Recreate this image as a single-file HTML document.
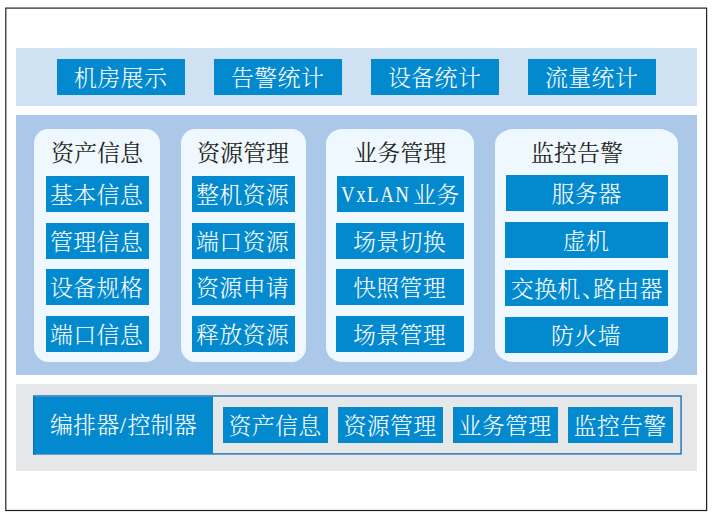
<!DOCTYPE html>
<html lang="zh-CN">
<head>
<meta charset="utf-8">
<title>架构图</title>
<style>
html,body{margin:0;padding:0;background:#fff;}
body{width:714px;height:517px;position:relative;overflow:hidden;
  font-family:"Liberation Serif","Noto Serif CJK SC",serif;font-size:23px;}
.abs{position:absolute;box-sizing:border-box;}
#band1{left:16px;top:48px;width:681px;height:57.7px;background:#cfe2f3;}
#band2{left:16px;top:115.2px;width:681px;height:259.4px;background:#abc8e8;}
#band3{left:16px;top:384px;width:681px;height:87px;background:#e6e7e8;}
.btn{position:absolute;box-sizing:border-box;padding-right:1px;letter-spacing:0.3px;background:#0389cd;color:#fff;text-align:center;white-space:nowrap;
  height:36px;line-height:39px;overflow:hidden;font-weight:300;}
.panel{position:absolute;background:#eef8fe;border-radius:14.4px;top:128.9px;height:232.8px;}
.hd{position:absolute;color:#231f20;white-space:nowrap;text-align:center;height:36px;line-height:36px;top:136px;font-weight:400;}
.lat{display:inline-block;width:67.8px;margin-left:4.2px;margin-right:3.8px;vertical-align:baseline;}
.lat span{display:inline-block;transform:scaleX(0.8);transform-origin:0 50%;letter-spacing:1.9px;font-size:23.6px;position:relative;top:-1.5px;font-weight:400;}
</style>
</head>
<body>
<svg class="abs" style="left:0;top:0" width="714" height="517" viewBox="0 0 714 517"><rect x="5.8" y="8.1" width="700.8" height="502.4" fill="#fff" stroke="#231f20" stroke-width="1.2"/></svg>
<div class="abs" id="band1"></div>
<div class="abs" id="band2"></div>
<div class="abs" id="band3"></div>

<!-- top buttons -->
<div class="btn" style="left:57px;top:59px;width:128px;padding-right:0.8px;">机房展示</div>
<div class="btn" style="left:214px;top:59px;width:128px;padding-right:0.8px;">告警统计</div>
<div class="btn" style="left:371px;top:59px;width:128px;padding-right:0.8px;">设备统计</div>
<div class="btn" style="left:528px;top:59px;width:128px;padding-right:0.8px;">流量统计</div>

<!-- panels -->
<div class="panel" style="left:34px;width:126px;"></div>
<div class="panel" style="left:180.5px;width:125.2px;"></div>
<div class="panel" style="left:326.2px;width:148.2px;border-radius:16.7px/14.6px;"></div>
<div class="panel" style="left:495px;width:183.1px;border-radius:19px/15px;"></div>

<div class="hd" style="left:34px;width:126px;">资产信息</div>
<div class="hd" style="left:180.5px;width:125.2px;">资源管理</div>
<div class="hd" style="left:326.2px;width:148.2px;">业务管理</div>
<div class="hd" style="left:495px;width:164px;">监控告警</div>

<!-- panel 1 -->
<div class="btn" style="left:46px;top:176px;width:103px;padding-right:2px;">基本信息</div>
<div class="btn" style="left:46px;top:222.7px;width:103px;padding-right:2px;">管理信息</div>
<div class="btn" style="left:46px;top:269px;width:103px;padding-right:2px;">设备规格</div>
<div class="btn" style="left:46px;top:316px;width:103px;padding-right:2px;">端口信息</div>
<!-- panel 2 -->
<div class="btn" style="left:192px;top:176px;width:103px;padding-right:2px;">整机资源</div>
<div class="btn" style="left:192px;top:222.7px;width:103px;padding-right:2px;">端口资源</div>
<div class="btn" style="left:192px;top:269px;width:103px;padding-right:2px;">资源申请</div>
<div class="btn" style="left:192px;top:316px;width:103px;padding-right:2px;">释放资源</div>
<!-- panel 3 -->
<div class="btn" style="left:337.1px;top:176px;width:126.9px;text-align:left;"><span class="lat"><span>VxLAN</span></span>业务</div>
<div class="btn" style="left:336px;top:222.7px;width:128px;">场景切换</div>
<div class="btn" style="left:336px;top:269px;width:128px;">快照管理</div>
<div class="btn" style="left:336px;top:316px;width:128px;">场景管理</div>
<!-- panel 4 -->
<div class="btn" style="left:506px;top:175px;width:162px;">服务器</div>
<div class="btn" style="left:505px;top:222.3px;width:163px;">虚机</div>
<div class="btn" style="left:505px;top:270px;width:163px;padding-right:0;padding-left:0.6px;">交换机<span style="letter-spacing:-12px;margin-left:1.3px">、</span>路由器</div>
<div class="btn" style="left:505px;top:317px;width:163px;">防火墙</div>

<!-- bottom -->
<svg class="abs" style="left:0;top:0" width="714" height="517" viewBox="0 0 714 517"><rect x="33" y="396.7" width="3" height="57.9" fill="#0389cd"/><rect x="33.7" y="396" width="647.37" height="57.89" fill="none" stroke="#186bba" stroke-width="1.36"/><rect x="34.4" y="396.7" width="178.6" height="57.2" fill="#0389cd"/></svg>
<div class="btn" style="background:none;left:33.2px;top:396.4px;width:179.8px;height:58.2px;line-height:59.6px;letter-spacing:0.1px;padding-right:0;padding-left:0.7px;">编排器<span style="margin:0 1.2px 0 0.5px">/</span>控制器</div>
<div class="btn" style="left:223px;top:407px;width:105px;">资产信息</div>
<div class="btn" style="left:338px;top:407px;width:105px;">资源管理</div>
<div class="btn" style="left:453px;top:407px;width:105px;">业务管理</div>
<div class="btn" style="left:568px;top:407px;width:105px;">监控告警</div>
</body>
</html>
